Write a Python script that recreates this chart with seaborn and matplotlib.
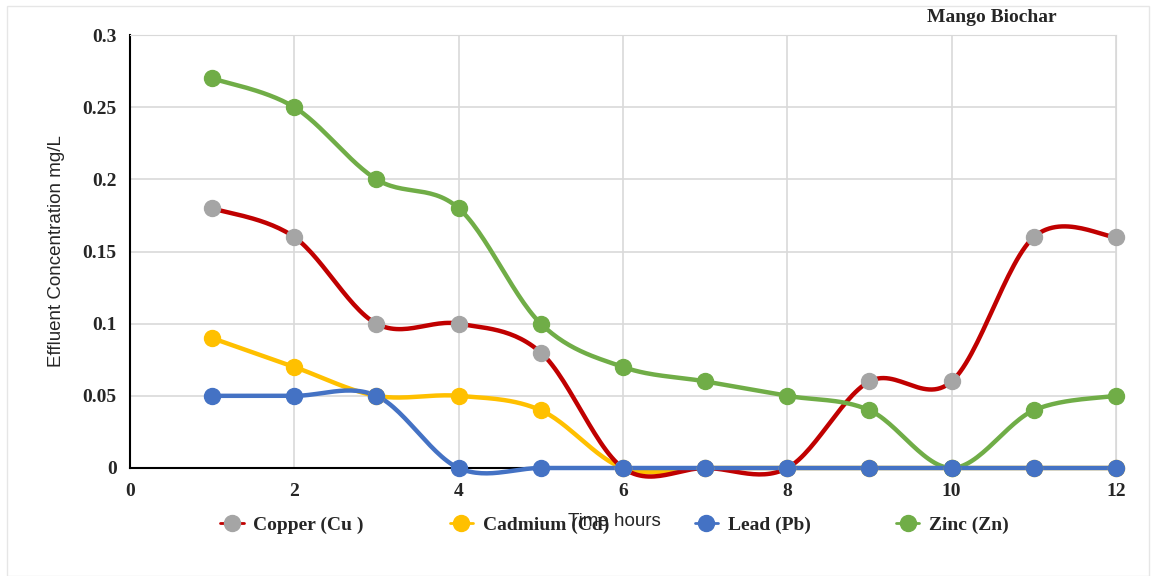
import numpy as np
import pandas as pd
import seaborn as sns
import matplotlib.pyplot as plt
from matplotlib.lines import Line2D
from matplotlib.patches import Rectangle

# data
hours = [1, 2, 3, 4, 5, 6, 7, 8, 9, 10, 11, 12]
copper = [0.18, 0.16, 0.10, 0.10, 0.08, 0, 0, 0, 0.06, 0.06, 0.16, 0.16]
cadmium = [0.09, 0.07, 0.05, 0.05, 0.04, 0, 0, 0, 0, 0, 0, 0]
lead = [0.05, 0.05, 0.05, 0, 0, 0, 0, 0, 0, 0, 0, 0]
zinc = [0.27, 0.25, 0.20, 0.18, 0.10, 0.07, 0.06, 0.05, 0.04, 0, 0.04, 0.05]

names = ["Copper (Cu )", "Cadmium (Cd)", "Lead (Pb)", "Zinc (Zn)"]
series = [copper, cadmium, lead, zinc]
line_cols = ["#C00000", "#FFC000", "#4472C4", "#70AD47"]
mark_cols = ["#A5A5A5", "#FFC000", "#4472C4", "#70AD47"]


def smooth(x, y, n=30):
    # excel style smoothed line (catmull-rom bezier)
    x = np.asarray(x, float)
    y = np.asarray(y, float)
    px = np.r_[x[0], x, x[-1]]
    py = np.r_[y[0], y, y[-1]]
    t = np.linspace(0, 1, n)[:, None]
    xs, ys = [], []
    for i in range(1, len(px) - 2):
        p0 = np.array([px[i], py[i]])
        p3 = np.array([px[i + 1], py[i + 1]])
        p1 = p0 + (p3 - np.array([px[i - 1], py[i - 1]])) / 6
        p2 = p3 - (np.array([px[i + 2], py[i + 2]]) - p0) / 6
        b = (1 - t) ** 3 * p0 + 3 * (1 - t) ** 2 * t * p1 + 3 * (1 - t) * t ** 2 * p2 + t ** 3 * p3
        xs.append(b[:, 0])
        ys.append(b[:, 1])
    return np.concatenate(xs), np.concatenate(ys)


sns.set_style("whitegrid", {"grid.color": "#D9D9D9", "axes.edgecolor": "#D9D9D9"})
plt.rcParams['font.family'] = ['Liberation Serif', 'DejaVu Serif']

fig = plt.figure(figsize=(11.51, 5.76), dpi=100)
ax = fig.add_axes([0.1129, 0.1875, 0.8567, 0.7517])

# order so that lead sits on top like the original
for idx in [1, 0, 3, 2]:
    sx, sy = smooth(hours, series[idx])
    df = pd.DataFrame({"x": sx, "y": sy})
    sns.lineplot(data=df, x="x", y="y", ax=ax, color=line_cols[idx], lw=3.2,
                 sort=False, estimator=None, clip_on=False, zorder=3)
    ax.plot(hours, series[idx], ls="none", marker="o", ms=11.5,
            mfc=mark_cols[idx], mec=mark_cols[idx], clip_on=False, zorder=4)

ax.set_xlim(0, 12)
ax.set_ylim(0, 0.3)
ax.set_xticks([0, 2, 4, 6, 8, 10, 12])
ax.set_yticks([0, 0.05, 0.1, 0.15, 0.2, 0.25, 0.3])
ax.set_yticklabels(["0", "0.05", "0.1", "0.15", "0.2", "0.25", "0.3"])
ax.tick_params(axis="y", labelsize=14, pad=6)
ax.tick_params(axis="x", labelsize=14, pad=7)
for lab in ax.get_xticklabels() + ax.get_yticklabels():
    lab.set_fontweight("bold")
ax.grid(True, color="#D9D9D9", lw=1.2)
ax.spines["left"].set_color("black")
ax.spines["left"].set_linewidth(1.5)
ax.spines["bottom"].set_color("black")
ax.spines["bottom"].set_linewidth(1.5)
ax.spines["top"].set_color("#D9D9D9")
ax.spines["right"].set_color("#D9D9D9")

ax.set_ylabel("Effluent Concentration mg/L", family=["Liberation Sans", "DejaVu Sans"], fontsize=13.5)
ax.yaxis.set_label_coords(-0.066, 0.5)
ax.set_xlabel("Time hours", family=["Liberation Sans", "DejaVu Sans"], fontsize=13.5)
ax.xaxis.set_label_coords(0.491, -0.105)

fig.text(0.862, 0.97, "Mango Biochar", ha="center", va="center",
         fontsize=14, fontweight="bold")

handles = [Line2D([0], [0], color=line_cols[i], lw=2, marker="o", ms=11.5,
                  mfc=mark_cols[i], mec=mark_cols[i]) for i in range(4)]
fig.legend(handles, names, loc="center", bbox_to_anchor=(0.534, 0.088), ncol=4,
           frameon=False, prop={"size": 14, "weight": "bold"}, handlelength=1.2,
           handletextpad=0.5, columnspacing=4.4)

fig.patches.append(Rectangle((0.006, 0.0), 0.992, 0.99, transform=fig.transFigure,
                             fill=False, ec="#E6E6E6", lw=1))

fig.savefig("out.png", dpi=100)
